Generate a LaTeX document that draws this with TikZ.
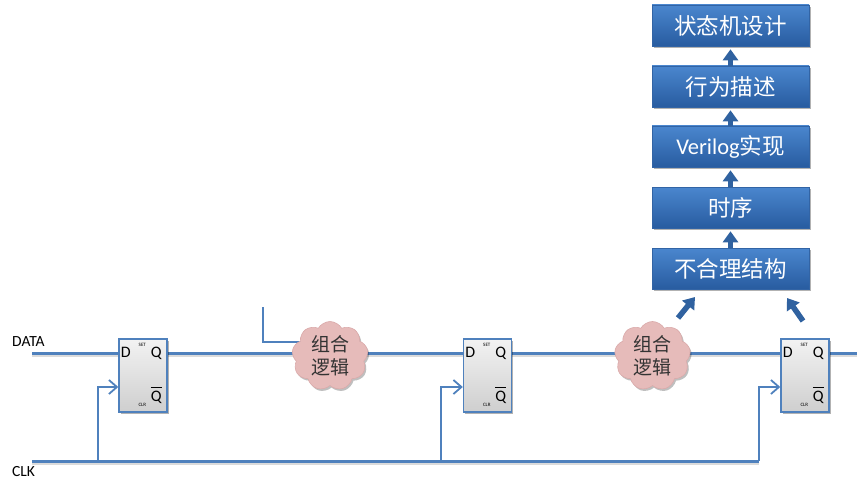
\documentclass[tikz,border=0pt]{standalone}
\usepackage{fontspec}
\setmainfont{Carlito}
\newfontfamily\cjk{Noto Sans CJK SC}
\usetikzlibrary{shapes.symbols,shadows,arrows.meta}
\pgfdeclarelayer{bg}\pgfsetlayers{bg,main}
\definecolor{wire}{RGB}{79,129,189}
\definecolor{boxtop}{RGB}{74,134,206}
\definecolor{boxbot}{RGB}{40,92,160}
\definecolor{boxedge}{RGB}{50,100,165}
\definecolor{arrowc}{RGB}{48,98,160}
\definecolor{cloudfill}{RGB}{230,187,186}
\definecolor{cloudedge}{RGB}{218,170,170}
\newcommand\qbarsym{\setbox0=\hbox{Q}\rlap{\rule[\dimexpr\ht0+3pt\relax]{\wd0}{1.1pt}}Q}
\begin{document}
\begin{tikzpicture}[x=1pt,y=-1pt,
  flowbox/.style={rectangle, minimum width=157pt, minimum height=41pt, inner sep=0pt,
    top color=boxtop, bottom color=boxbot, draw=boxedge, line width=0.6pt, text=white,
    font=\cjk\fontsize{22.5}{26}\selectfont,
    drop shadow={shadow xshift=1.5pt,shadow yshift=-2pt,opacity=0.3,fill=black}},
  blockarrow/.style={draw=arrowc, line width=5.5pt, -{Triangle[width=15pt,length=11pt]}},
  ffbox/.style={rectangle, minimum width=48pt, minimum height=73pt, inner sep=0pt,
    draw=wire, line width=1.4pt, top color=gray!10, bottom color=gray!38,
    drop shadow={shadow xshift=1.5pt,shadow yshift=-2pt,opacity=0.3,fill=black}},
  pinlab/.style={inner sep=0pt, font=\fontsize{16}{16}\selectfont},
  tinylab/.style={inner sep=0pt, font=\fontsize{5}{5}\selectfont},
  cloudy/.style={cloud, cloud puffs=9, cloud puff arc=120, minimum width=76pt, minimum height=69pt,
    inner sep=0pt, fill=cloudfill, draw=cloudedge, line width=0.6pt, align=center,
    font=\cjk\fontsize{19}{23}\selectfont, text=black!80,
    drop shadow={shadow xshift=1.5pt,shadow yshift=-2pt,opacity=0.25,fill=black}},
  wirew/.style={draw=wire, line width=3pt,
    preaction={draw=black!14, line width=3pt, transform canvas={yshift=-2.5pt}}},
  clkw/.style={draw=wire, line width=1.8pt},
  thinw/.style={draw=wire, line width=1.3pt},
  sidelab/.style={inner sep=0pt, anchor=west, font=\fontsize{15.5}{15.5}\selectfont}
]
\useasboundingbox (0,0) rectangle (864,492);

% flow boxes
\node[flowbox] (b1) at (730.5,25.5) {状态机设计};
\node[flowbox] (b2) at (730.5,86.5) {行为描述};
\node[flowbox] (b3) at (730.5,146.5) {{\rmfamily Verilog}实现};
\node[flowbox] (b4) at (730.5,207.5) {时序};
\node[flowbox] (b5) at (730.5,268.5) {不合理结构};

\draw[blockarrow, shorten >=3pt] (b2.north) -- (b1.south);
\draw[blockarrow, shorten >=3pt] (b3.north) -- (b2.south);
\draw[blockarrow, shorten >=3pt] (b4.north) -- (b3.south);
\draw[blockarrow, shorten >=3pt] (b5.north) -- (b4.south);

\coordinate (la0) at (678,318);
\coordinate (la1) at (695,297);
\coordinate (ra0) at (803,321);
\coordinate (ra1) at (787,298);
\draw[blockarrow] (la0) -- (la1);
\draw[blockarrow] (ra0) -- (ra1);

% flip-flops
\node[ffbox] (ff1) at (143,375.5) {};
\node[ffbox] (ff2) at (487.5,375.5) {};
\node[ffbox] (ff3) at (805,375.5) {};
\foreach \f in {ff1,ff2,ff3}{
  \node[pinlab] (\f-D) at ([xshift=7.5pt,yshift=-14.5pt]\f.north west) {D};
  \node[pinlab] (\f-Q) at ([xshift=38pt,yshift=-15.5pt]\f.north west) {Q};
  \node[pinlab] (\f-Qb) at ([xshift=38pt,yshift=-57pt]\f.north west) {\qbarsym};
  \node[tinylab] (\f-S) at ([xshift=24pt,yshift=-7pt]\f.north west) {SET};
  \node[tinylab] (\f-C) at ([xshift=24pt,yshift=-67pt]\f.north west) {CLR};
}

% clouds
\node[cloudy] (c1) at (330,356) {组合\\逻辑};
\node[cloudy] (c2) at (652.5,356) {组合\\逻辑};

% labels
\node[sidelab] (ldata) at (12,342) {DATA};
\node[sidelab] (lclk) at (12,472) {CLK};

% wires
\coordinate (dstart) at (32,353);
\coordinate (dend) at (857,353);
\coordinate (kstart) at (32,461);
\coordinate (k1) at (98,461);
\coordinate (k2) at (441,461);
\coordinate (k3) at (759,461);
\coordinate (t0) at (263,307);
\begin{pgfonlayer}{bg}
  \draw[wirew] (dstart) -- (ff1.west |- dstart);
  \draw[wirew] (ff1.east |- dstart) -- (c1 |- dstart) -- (ff2.west |- dstart);
  \draw[wirew] (ff2.east |- dstart) -- (c2 |- dstart) -- (ff3.west |- dstart);
  \draw[wirew] (ff3.east |- dstart) -- (dend);
  \draw[wirew] (kstart) -- (k1) -- (k2) -- (k3);
  \draw[thinw] (t0) |- ([yshift=14pt]c1.center);
\end{pgfonlayer}
\draw[clkw, -{Straight Barb[length=8pt,width=14pt]}] (k1) |- ([yshift=-11.5pt]ff1.west);
\draw[clkw, -{Straight Barb[length=8pt,width=14pt]}] (k2) |- ([yshift=-11.5pt]ff2.west);
\draw[clkw, -{Straight Barb[length=8pt,width=14pt]}] (k3) |- ([yshift=-11.5pt]ff3.west);
\end{tikzpicture}
\end{document}
